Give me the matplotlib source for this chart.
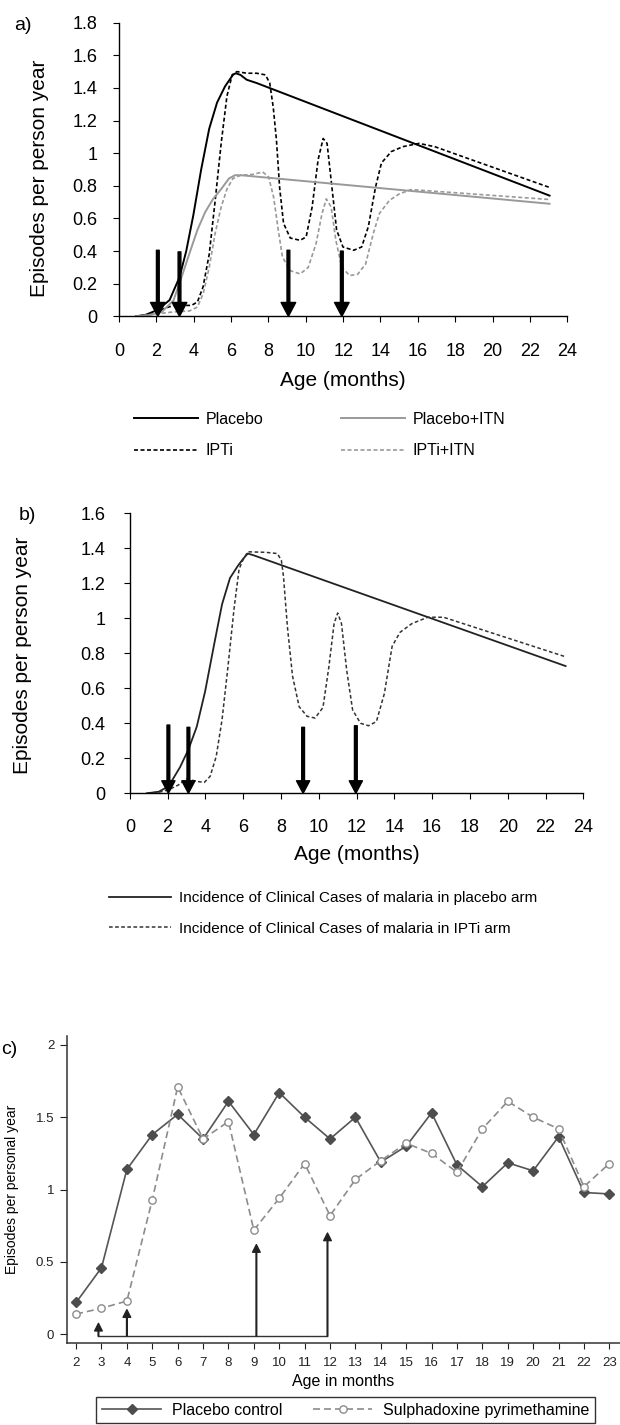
# Three panels: modelled incidence (a, b) and observed incidence (c) by age
import numpy as np
import matplotlib
matplotlib.use("Agg")
import matplotlib.pyplot as plt
from matplotlib.ticker import FuncFormatter

plt.rcParams["font.family"] = ["Liberation Sans", "DejaVu Sans"]

# ---- panel a: episodes per person year ----
age_plac_a = [0.91, 1.44, 2.08, 2.71, 3.24, 3.6, 3.98, 4.4, 4.83, 5.25, 5.68, 6.1, 6.25,
              6.5, 6.84, 7.37, 23.05]
plac_a = [0.0, 0.01, 0.04, 0.1, 0.24, 0.4, 0.62, 0.9, 1.15, 1.31, 1.41, 1.48, 1.49,
          1.48, 1.45, 1.43, 0.74]

age_ipti_a = [0.91, 1.65, 2.08, 2.4, 2.92, 3.88, 4.2, 4.5, 4.83, 5.15, 5.47, 5.78, 6.06, 6.31,
              6.84, 7.37, 7.84, 8.07, 8.26, 8.43, 8.6, 8.81, 9.17, 9.7, 10.02, 10.34, 10.66,
              10.93, 11.14, 11.4, 11.65, 11.99, 12.56, 12.99, 13.35, 13.73, 14.05, 14.58,
              15.2, 16.06, 16.9, 23.05]
ipti_a = [0.0, 0.012, 0.027, 0.047, 0.067, 0.067, 0.088, 0.18, 0.38, 0.71, 1.06, 1.35, 1.48, 1.5,
          1.49, 1.49, 1.48, 1.43, 1.28, 1.08, 0.79, 0.57, 0.48, 0.466, 0.487, 0.67, 0.96,
          1.09, 1.06, 0.79, 0.53, 0.425, 0.405, 0.425, 0.55, 0.79, 0.94, 1.01,
          1.04, 1.06, 1.04, 0.79]

age_plac_itn_a = [0.91, 1.65, 2.29, 2.92, 3.35, 3.77, 4.2, 4.62, 5.04, 5.47, 5.89, 6.21, 6.53, 23.05]
plac_itn_a = [0.0, 0.008, 0.027, 0.098, 0.24, 0.385, 0.53, 0.64, 0.72, 0.78, 0.845, 0.865, 0.865, 0.69]

age_ipti_itn_a = [0.91, 2.08, 2.92, 3.77, 4.2, 4.51, 4.83, 5.15, 5.47, 5.78, 6.1, 6.53, 7.16, 7.69,
                  8.01, 8.28, 8.5, 8.75, 9.17, 9.7, 10.13, 10.55, 10.87, 11.1, 11.36, 11.61,
                  11.93, 12.35, 12.78, 13.2, 13.62, 13.94, 14.47, 15.0, 15.64, 23.05]
ipti_itn_a = [0.0, 0.016, 0.027, 0.033, 0.057, 0.14, 0.3, 0.51, 0.67, 0.78, 0.845, 0.865, 0.87, 0.885,
              0.855, 0.73, 0.55, 0.364, 0.28, 0.26, 0.3, 0.446, 0.63, 0.72, 0.67, 0.466,
              0.3, 0.25, 0.258, 0.32, 0.51, 0.63, 0.71, 0.75, 0.777, 0.716]

dose_age_a = [2.08, 3.24, 9.07, 11.93]
dose_top_a = [0.405, 0.395, 0.405, 0.40]

# ---- panel b ----
age_plac_b = [0.9, 1.53, 2.05, 2.66, 3.1, 3.54, 3.98, 4.46, 4.88, 5.3, 5.72, 6.0, 6.24, 6.55, 23.06]
plac_b = [0.0, 0.009, 0.04, 0.15, 0.25, 0.38, 0.58, 0.85, 1.08, 1.23, 1.3, 1.34, 1.37, 1.36, 0.727]

age_ipti_b = [0.9, 1.53, 2.05, 2.58, 2.99, 3.62, 3.94, 4.25, 4.57, 4.88, 5.19, 5.51, 5.78, 5.97,
              6.24, 7.18, 7.81, 8.02, 8.13, 8.34, 8.61, 8.96, 9.38, 9.8, 10.22, 10.53, 10.81,
              11.0, 11.2, 11.48, 11.79, 12.21, 12.63, 13.05, 13.47, 13.88, 14.3, 14.93, 15.77,
              16.6, 23.06]
ipti_b = [0.0, 0.006, 0.02, 0.048, 0.082, 0.067, 0.062, 0.097, 0.21, 0.42, 0.72, 1.05, 1.28, 1.33,
          1.38, 1.377, 1.37, 1.33, 1.24, 0.95, 0.67, 0.495, 0.44, 0.43, 0.49, 0.72, 0.97,
          1.03, 0.97, 0.7, 0.476, 0.4, 0.386, 0.41, 0.57, 0.84, 0.92, 0.97, 1.006,
          1.006, 0.78]

dose_age_b = [2.04, 3.1, 9.17, 11.96]
dose_top_b = [0.39, 0.377, 0.377, 0.386]

# ---- panel c: observed data by month of age ----
months_c = list(range(2, 24))
placebo_c = [0.22, 0.46, 1.14, 1.38, 1.52, 1.35, 1.61, 1.38, 1.67, 1.50, 1.35, 1.50,
             1.19, 1.30, 1.53, 1.17, 1.02, 1.185, 1.13, 1.365, 0.98, 0.97]
sp_c = [0.14, 0.18, 0.23, 0.93, 1.71, 1.35, 1.47, 0.72, 0.94, 1.18, 0.82, 1.07,
        1.20, 1.32, 1.25, 1.12, 1.42, 1.61, 1.50, 1.42, 1.02, 1.18]

dose_age_c = [2.88, 4.0, 9.1, 11.9]
dose_top_c = [0.076, 0.17, 0.62, 0.70]


def fmt(v, pos):
    return f"{v:g}"


def style_model_axes(ax, ymax):
    for s in ["top", "right"]:
        ax.spines[s].set_visible(False)
    for s in ["left", "bottom"]:
        ax.spines[s].set_linewidth(1.0)
    ax.set_xlim(0, 24)
    ax.set_ylim(0, ymax)
    ax.set_xticks(range(0, 25, 2))
    ax.set_yticks(np.arange(0, ymax + 0.01, 0.2))
    ax.yaxis.set_major_formatter(FuncFormatter(fmt))
    ax.tick_params(direction="out", length=4.5, width=0.8, labelsize=13)
    ax.set_xlabel("Age (months)", fontsize=15)
    ax.set_ylabel("Episodes per person year", fontsize=15)


def dose_arrows(ax, ages, tops, **kw):
    for x, top in zip(ages, tops):
        ax.annotate("", xy=(x, 0), xytext=(x, top),
                    arrowprops=dict(shrink=0, **kw))


fig = plt.figure(figsize=(6.2, 14.25), dpi=100)

# ---------------- a ----------------
ax_a = fig.add_axes([0.1919, 0.7780, 0.7231, 0.2061])
l1, = ax_a.plot(age_plac_a, plac_a, color="black", lw=1.4, label="Placebo")
l2, = ax_a.plot(age_ipti_a, ipti_a, color="black", lw=1.2, dashes=(2.4, 1.5), label="IPTi")
l3, = ax_a.plot(age_plac_itn_a, plac_itn_a, color="#999999", lw=1.4, label="Placebo+ITN")
l4, = ax_a.plot(age_ipti_itn_a, ipti_itn_a, color="#999999", lw=1.2, dashes=(2.4, 1.5),
                label="IPTi+ITN")
dose_arrows(ax_a, dose_age_a, dose_top_a, facecolor="black", edgecolor="black",
            width=2.0, headwidth=10.5, headlength=10)
style_model_axes(ax_a, 1.8)
ax_a.tick_params(axis="x", pad=15)
ax_a.tick_params(axis="y", pad=11)
ax_a.xaxis.set_label_coords(0.5, -0.185)
ax_a.yaxis.set_label_coords(-0.155, 0.47)
fig.legend(handles=[l1, l2, l3, l4], loc="upper left", bbox_to_anchor=(0.2161, 0.711),
           ncol=2, frameon=False, fontsize=11.5, borderpad=0, borderaxespad=0,
           handlelength=4.0, handletextpad=0.47, columnspacing=4.9, labelspacing=1.04)
fig.text(23 / 620, 1 - 25 / 1425, "a)", fontsize=14, ha="center", va="center")

# ---------------- b ----------------
ax_b = fig.add_axes([0.2094, 0.4433, 0.7315, 0.1965])
m1, = ax_b.plot(age_plac_b, plac_b, color="#222222", lw=1.3,
                label="Incidence of Clinical Cases of malaria in placebo arm")
m2, = ax_b.plot(age_ipti_b, ipti_b, color="#333333", lw=1.1, dashes=(2.4, 1.6),
                label="Incidence of Clinical Cases of malaria in IPTi arm")
dose_arrows(ax_b, dose_age_b, dose_top_b, facecolor="black", edgecolor="black",
            width=2.0, headwidth=9.5, headlength=9)
style_model_axes(ax_b, 1.6)
ax_b.tick_params(axis="x", pad=14)
ax_b.tick_params(axis="y", pad=13)
ax_b.xaxis.set_label_coords(0.5, -0.185)
ax_b.yaxis.set_label_coords(-0.216, 0.494)
fig.legend(handles=[m1, m2], loc="upper left", bbox_to_anchor=(0.1753, 0.3746),
           frameon=False, fontsize=11, borderpad=0, borderaxespad=0,
           handlelength=4.05, handletextpad=0.52, labelspacing=1.07)
fig.text(27.7 / 620, 1 - 515.7 / 1425, "b)", fontsize=14, ha="center", va="center")

# ---------------- c ----------------
ax_c = fig.add_axes([0.1076, 0.05775, 0.8924, 0.2153])
n1, = ax_c.plot(months_c, placebo_c, color="#555555", lw=1.2, marker="D", ms=5.2,
                mfc="#4d4d4d", mec="#4d4d4d", label="Placebo control")
n2, = ax_c.plot(months_c, sp_c, color="#8c8c8c", lw=1.2, dashes=(4.2, 2.4), marker="o",
                ms=5.3, mfc="white", mec="#8c8c8c", mew=1.0, label="Sulphadoxine pyrimethamine")
ax_c.plot([dose_age_c[0], dose_age_c[-1]], [-0.012, -0.012], color="#333333", lw=1.0)
for x, top in zip(dose_age_c, dose_top_c):
    ax_c.annotate("", xy=(x, top), xytext=(x, -0.012),
                  arrowprops=dict(shrink=0, facecolor="#222222", edgecolor="#222222",
                                  width=0.5, headwidth=5.5, headlength=5.5))
for s in ["top", "right"]:
    ax_c.spines[s].set_visible(False)
for s in ["left", "bottom"]:
    ax_c.spines[s].set_linewidth(1.1)
    ax_c.spines[s].set_color("#333333")
ax_c.set_xlim(1.63, 23.42)
ax_c.set_ylim(-0.058, 2.062)
ax_c.set_xticks(months_c)
ax_c.set_yticks([0, 0.5, 1, 1.5, 2])
ax_c.yaxis.set_major_formatter(FuncFormatter(fmt))
ax_c.tick_params(direction="out", width=0.8, labelsize=9.5, colors="#222222")
ax_c.tick_params(axis="x", length=4, pad=6)
ax_c.tick_params(axis="y", length=5, pad=4)
ax_c.set_xlabel("Age in months", fontsize=11.5)
ax_c.xaxis.set_label_coords(0.5, -0.102)
ax_c.set_ylabel("Episodes per personal year", fontsize=10)
ax_c.yaxis.set_label_coords(-0.086, 0.5)
fig.legend(handles=[n1, n2], loc="upper left", bbox_to_anchor=(0.1555, 0.0195),
           ncol=2, numpoints=1, fontsize=11.5, fancybox=False, framealpha=1,
           edgecolor="#333333", borderpad=0.35, borderaxespad=0, handlelength=3.7,
           handletextpad=0.7, columnspacing=1.9)
fig.text(17 / 620, 1 - 1049 / 1425, "c)", fontsize=14, ha="right", va="center")

fig.savefig("out.png", dpi=100)
